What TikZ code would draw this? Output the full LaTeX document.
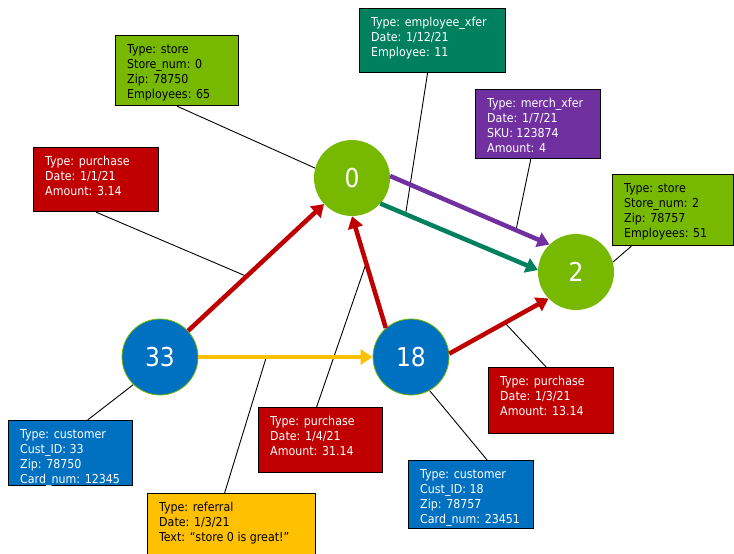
\documentclass[tikz,border=0pt]{standalone}
\usepackage{fontspec}
\setmainfont{DejaVu Sans Condensed}
\usetikzlibrary{arrows.meta,calc}
\definecolor{cgreen}{HTML}{76B900}
\definecolor{cblue}{HTML}{0070C0}
\definecolor{cred}{HTML}{C00000}
\definecolor{cyellow}{HTML}{FFC000}
\definecolor{cpurple}{HTML}{7030A0}
\definecolor{cteal}{HTML}{00805F}
\pgfdeclarelayer{background}
\pgfsetlayers{background,main}
\begin{document}
\begin{tikzpicture}[x=1pt,y=-1pt,
  vert/.style={circle,minimum size=76pt,inner sep=0pt,text=white,font=\fontsize{26}{28}\selectfont},
  box/.style={draw=black,line width=1.2pt,rectangle,inner sep=0pt,anchor=north west},
  boxtext/.style={anchor=north west,inner sep=0pt,align=left,font=\fontsize{12.3}{15}\selectfont},
  edge/.style={line width=4.5pt,-{Triangle[length=12pt,width=15pt]}},
  callout/.style={line width=0.9pt,black}]
\useasboundingbox (0,0) rectangle (734,554);

% vertices
\node[vert,fill=cgreen] (n0) at (352,178) {0};
\node[vert,fill=cgreen] (n2) at (576,272) {2};
\node[vert,fill=cblue,draw=cgreen,line width=0.8pt] (n33) at (160,357) {33};
\node[vert,fill=cblue,draw=cgreen,line width=0.8pt] (n18) at (411,357) {18};

% edges
\draw[edge,cpurple] (n0.3) -- coordinate[pos=0.79] (pm) (n2.134);
\draw[edge,cteal] (n0.-42) -- coordinate[pos=0.16] (tm) (n2.177);
\draw[edge,cred] (n33) -- coordinate[pos=0.43] (r1) (n0);
\draw[edge,cyellow] (n33.east) -- coordinate[pos=0.39] (ym) (n18.west);
\draw[edge,cred] (n18.131) -- coordinate[pos=0.58] (r2) (n0.south);
\draw[edge,cred] (n18.5) -- coordinate[pos=0.56] (r3) (n2.224);

% property boxes
\node[box,fill=cgreen,minimum width=123pt,minimum height=70pt] (bs0) at (115,35) {};
\node[boxtext,text=black] (ts0) at ([shift={(12,9)}]bs0.north west) {Type: store\\Store\_num: 0\\Zip: 78750\\Employees: 65};

\node[box,fill=cteal,minimum width=146pt,minimum height=64pt] (bemp) at (359,8) {};
\node[boxtext,text=white] (temp) at ([shift={(12,9)}]bemp.north west) {Type: employee\_xfer\\Date: 1/12/21\\Employee: 11};

\node[box,fill=cpurple,minimum width=125pt,minimum height=69pt] (bmer) at (475,89) {};
\node[boxtext,text=white] (tmer) at ([shift={(12,9)}]bmer.north west) {Type: merch\_xfer\\Date: 1/7/21\\SKU: 123874\\Amount: 4};

\node[box,fill=cgreen,minimum width=121pt,minimum height=71pt] (bs2) at (612,174) {};
\node[boxtext,text=black] (ts2) at ([shift={(12,9)}]bs2.north west) {Type: store\\Store\_num: 2\\Zip: 78757\\Employees: 51};

\node[box,fill=cred,minimum width=125pt,minimum height=64pt] (bp1) at (33,147) {};
\node[boxtext,text=white] (tp1) at ([shift={(12,9)}]bp1.north west) {Type: purchase\\Date: 1/1/21\\Amount: 3.14};

\node[box,fill=cblue,minimum width=124pt,minimum height=65pt] (bc33) at (8,420) {};
\node[boxtext,text=white] (tc33) at ([shift={(12,9)}]bc33.north west) {Type: customer\\Cust\_ID: 33\\Zip: 78750\\Card\_num: 12345};

\node[box,fill=cyellow,minimum width=168pt,minimum height=75pt] (bref) at (147,493) {};
\node[boxtext,text=black] (tref) at ([shift={(12,9)}]bref.north west) {Type: referral\\Date: 1/3/21\\Text: “store 0 is great!”};

\node[box,fill=cred,minimum width=124pt,minimum height=65pt] (bp4) at (258,407) {};
\node[boxtext,text=white] (tp4) at ([shift={(12,9)}]bp4.north west) {Type: purchase\\Date: 1/4/21\\Amount: 31.14};

\node[box,fill=cblue,minimum width=125pt,minimum height=68pt] (bc18) at (408,460) {};
\node[boxtext,text=white] (tc18) at ([shift={(12,9)}]bc18.north west) {Type: customer\\Cust\_ID: 18\\Zip: 78757\\Card\_num: 23451};

\node[box,fill=cred,minimum width=125pt,minimum height=66pt] (bp3) at (488,367) {};
\node[boxtext,text=white] (tp3) at ([shift={(12,9)}]bp3.north west) {Type: purchase\\Date: 1/3/21\\Amount: 13.14};

% background and callout lines
\begin{pgfonlayer}{background}
\fill[white] (0,0) rectangle (734,554);
\draw[callout] (bs0.south) -- (n0.165);
\draw[callout] (bemp) -- (tm);
\draw[callout] (bmer) -- (pm);
\draw[callout] (bs2) -- (n2.15);
\draw[callout] (bp1.south) -- (r1);
\draw[callout] ([xshift=17pt]bc33.north) -- (n33.-134);
\draw[callout] ([xshift=-7pt]bref.north) -- (ym);
\draw[callout] ([xshift=-4pt]bp4.north) -- (r2);
\draw[callout] ([xshift=16pt]bc18.north) -- (n18.-61);
\draw[callout] ([xshift=-5pt]bp3.north) -- (r3);
\end{pgfonlayer}
\end{tikzpicture}
\end{document}
